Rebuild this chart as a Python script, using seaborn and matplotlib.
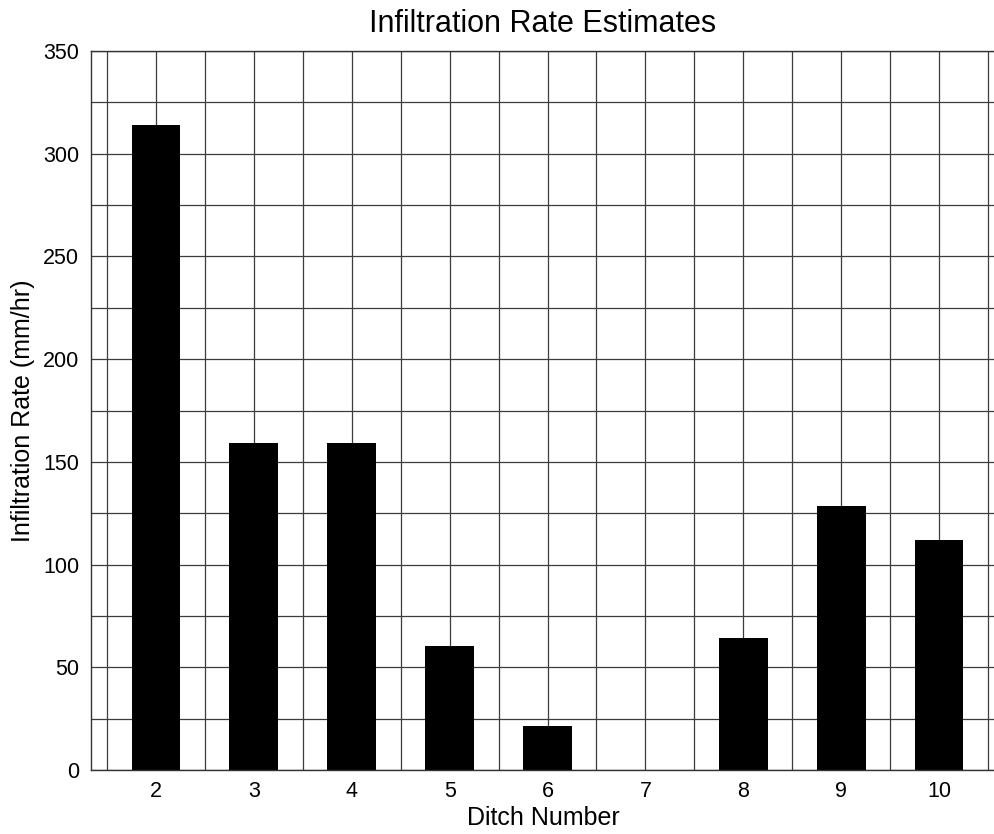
import matplotlib
matplotlib.use("Agg")
import matplotlib.pyplot as plt
import seaborn as sns
import pandas as pd
from matplotlib.ticker import MultipleLocator

# Infiltration estimates per ditch (mm/hr)
ditch_numbers = [2, 3, 4, 5, 6, 7, 8, 9, 10]
infiltration_rates = [314.2, 159.0, 159.0, 60.5, 21.3, 0.0, 64.1, 128.5, 112.0]
y_tick_values = [0, 50, 100, 150, 200, 250, 300, 350]

title_text = "Infiltration Rate Estimates"
x_label = "Ditch Number"
y_label = "Infiltration Rate (mm/hr)"

df = pd.DataFrame({"ditch": ditch_numbers, "rate": infiltration_rates})

sns.set_theme(style="white")
plt.rcParams["font.family"] = ["Liberation Sans", "DejaVu Sans"]

fig = plt.figure(figsize=(9.95, 8.34), dpi=100)
ax = fig.add_axes([91 / 995, 64 / 834, 904 / 995, 719 / 834])

sns.barplot(data=df, x="ditch", y="rate", native_scale=True, width=0.5,
            color="black", saturation=1, linewidth=0, errorbar=None, ax=ax)

# numeric x axis: ticks at ditch centres, grid also at half steps
ax.set_xlim(1.336, 10.572)
ax.set_ylim(0, 350)
ax.set_xticks(ditch_numbers)
ax.set_xticklabels([str(d) for d in ditch_numbers])
ax.xaxis.set_minor_locator(MultipleLocator(1, offset=0.5))
ax.set_yticks(y_tick_values)
ax.yaxis.set_minor_locator(MultipleLocator(25))

ax.set_axisbelow(True)
ax.grid(True, which="both", color="#3c3c3c", linewidth=0.9)

ax.tick_params(axis="both", which="major", direction="out", length=5, width=1,
               color="#333333", labelsize=15.5, labelcolor="black")
ax.tick_params(axis="y", which="major", pad=3.5)
ax.tick_params(axis="x", which="major", pad=3)
ax.tick_params(axis="both", which="minor", length=0)

for side in ["left", "bottom", "top"]:
    ax.spines[side].set_visible(True)
    ax.spines[side].set_color("#333333")
    ax.spines[side].set_linewidth(1.0)
ax.spines["right"].set_visible(False)

ax.set_title(title_text, fontsize=22, pad=14, color="black")
ax.set_xlabel(x_label, fontsize=18, labelpad=3, color="black")
ax.set_ylabel(y_label, fontsize=18, labelpad=6, color="black")

fig.savefig("out.png", dpi=100, facecolor="white")
